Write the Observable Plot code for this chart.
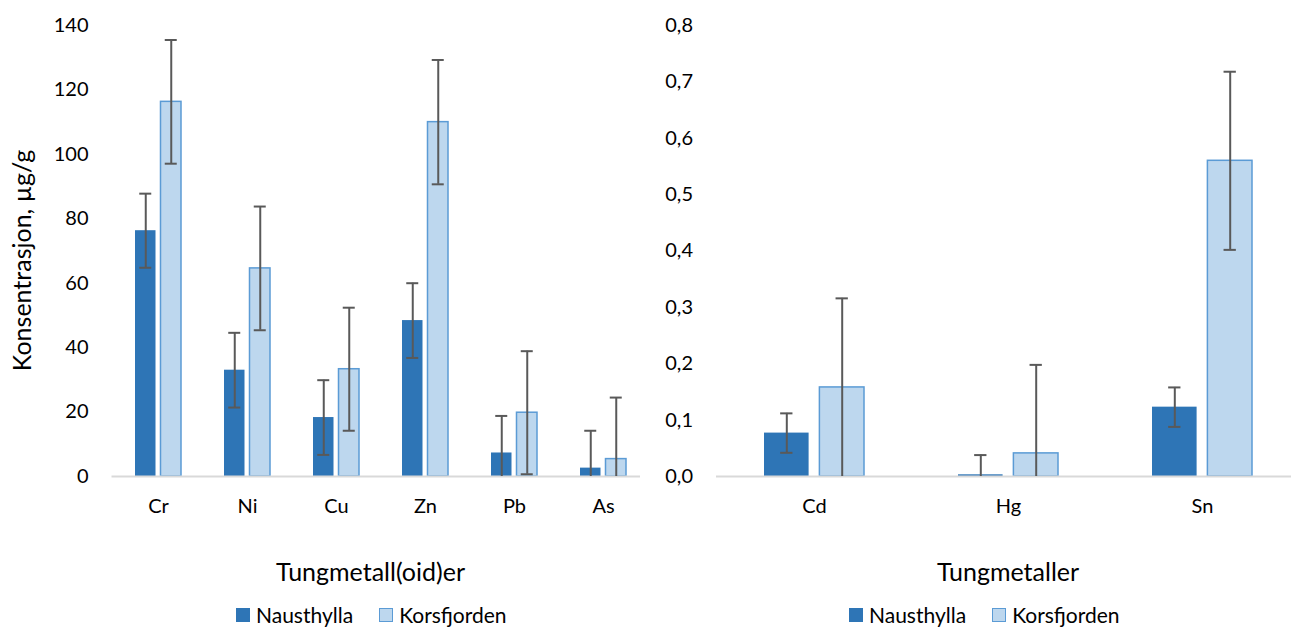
<!DOCTYPE html>
<html><head><meta charset="utf-8">
<script src="https://cdn.jsdelivr.net/npm/d3@7"></script>
<script src="https://cdn.jsdelivr.net/npm/@observablehq/plot@0.6"></script>
<style>
html,body{margin:0;padding:0;background:#fff;overflow:hidden;}
#wrap{position:relative;width:1291px;height:628px;overflow:hidden;font-family:Lato,sans-serif;background:#fff;}
.panel{position:absolute;top:0;}
.legend{position:absolute;top:602px;height:25px;display:flex;align-items:center;font-size:21px;color:#000;white-space:nowrap;line-height:25px;}
.legend .sw{display:inline-block;width:14px;height:14px;box-sizing:border-box;margin-right:6px;}
.legend .item{display:flex;align-items:center;margin-right:26px;}
</style></head><body><div id="wrap"></div>
<script>
// ---- data ----
const seriesNames = ["Nausthylla", "Korsfjorden"];
const leftCategories = ["Cr", "Ni", "Cu", "Zn", "Pb", "As"];
const leftNausthylla = [76.3, 33.0, 18.3, 48.4, 7.3, 2.6];
const leftNausthyllaErr = [11.5, 11.6, 11.6, 11.6, 11.5, 11.6];
const leftKorsfjorden = [116.3, 64.6, 33.3, 110.0, 19.8, 5.4];
const leftKorsfjordenErr = [19.2, 19.2, 19.1, 19.3, 19.1, 19.1];
const leftTicks = [0, 20, 40, 60, 80, 100, 120, 140];
const leftTickLabels = ["0", "20", "40", "60", "80", "100", "120", "140"];

const rightCategories = ["Cd", "Hg", "Sn"];
const rightNausthylla = [0.077, 0.003, 0.123];
const rightNausthyllaErr = [0.035, 0.035, 0.035];
const rightKorsfjorden = [0.158, 0.041, 0.560];
const rightKorsfjordenErr = [0.158, 0.157, 0.158];
const rightTicks = [0, 0.1, 0.2, 0.3, 0.4, 0.5, 0.6, 0.7, 0.8];
const rightTickLabels = ["0,0", "0,1", "0,2", "0,3", "0,4", "0,5", "0,6", "0,7", "0,8"];

const yTitle = "Konsentrasjon, µg/g";
const leftXTitle = "Tungmetall(oid)er";
const rightXTitle = "Tungmetaller";

// ---- style ----
const colN = "#2E75B6", colKFill = "#BDD7EE", colKStroke = "#5B9BD5";
const colErr = "#595959", colAxis = "#D9D9D9";

function rows(cats, vals, errs, series) {
  return cats.map((c, i) => ({
    cat: c, series, value: vals[i],
    hi: vals[i] + errs[i],
    lo: Math.max(0, vals[i] - errs[i]),
    hasLo: vals[i] - errs[i] > 0
  }));
}

function makeChart(o) {
  const pi = 0.487, po = pi / 2;
  const W = o.width - o.marginLeft - o.marginRight;
  const n = o.cats.length;
  const step = W / (n - pi + 2 * po);
  const bw = step * (1 - pi);
  const barW = o.barW, cap = 12;
  const off = bw / 2 - barW / 2;
  const nRows = rows(o.cats, o.N, o.NE, seriesNames[0]);
  const kRows = rows(o.cats, o.K, o.KE, seriesNames[1]);
  const capIn = (barW - cap) / 2;
  const errStyle = {stroke: colErr, strokeWidth: 2};
  const marks = [
    Plot.barY(nRows, {x: "cat", y: "value", fill: colN, insetRight: bw - barW}),
    Plot.barY(kRows, {x: "cat", y: "value", fill: colKFill, stroke: colKStroke, strokeWidth: 1.5, insetLeft: bw - barW}),
    Plot.ruleY([0], {stroke: colAxis, strokeWidth: 2, insetRight: o.axisInsetRight || 0}),
    Plot.ruleX(nRows, {x: "cat", y1: "lo", y2: "hi", dx: -off, ...errStyle}),
    Plot.ruleX(kRows, {x: "cat", y1: "lo", y2: "hi", dx: off, ...errStyle}),
    Plot.tickY(nRows, {x: "cat", y: "hi", insetLeft: capIn, insetRight: bw - barW + capIn, ...errStyle}),
    Plot.tickY(nRows.filter(d => d.hasLo), {x: "cat", y: "lo", insetLeft: capIn, insetRight: bw - barW + capIn, ...errStyle}),
    Plot.tickY(kRows, {x: "cat", y: "hi", insetRight: capIn, insetLeft: bw - barW + capIn, ...errStyle}),
    Plot.tickY(kRows.filter(d => d.hasLo), {x: "cat", y: "lo", insetRight: capIn, insetLeft: bw - barW + capIn, ...errStyle}),
    Plot.text([o.xTitle], {frameAnchor: "bottom", dy: 96, dx: o.xTitleDx, fontSize: 25, lineAnchor: "middle", textAnchor: "middle", fill: "#000"})
  ];
  if (o.yTitle) {
    marks.push(Plot.text([o.yTitle], {frameAnchor: "left", rotate: -90, dx: -89.5, dy: 9.5, fontSize: 25, textAnchor: "middle", lineAnchor: "middle", fill: "#000"}));
  }
  return Plot.plot({
    width: o.width, height: 600,
    marginLeft: o.marginLeft, marginRight: o.marginRight, marginTop: 25, marginBottom: 124,
    style: {fontSize: "20px", fontFamily: "Lato, sans-serif", color: "#000", background: "#fff", overflow: "visible"},
    x: {type: "band", domain: o.cats, paddingInner: pi, paddingOuter: po, tickSize: 0, tickPadding: 22, label: null},
    y: {domain: [0, o.yMax], ticks: o.ticks, tickFormat: d => o.tickLabels[o.ticks.indexOf(d)], tickSize: 0, tickPadding: 23.5, label: null},
    marks
  });
}

const wrap = document.getElementById("wrap");

const left = makeChart({
  cats: leftCategories, N: leftNausthylla, NE: leftNausthyllaErr, K: leftKorsfjorden, KE: leftKorsfjordenErr,
  ticks: leftTicks, tickLabels: leftTickLabels, yMax: 140,
  width: 650, marginLeft: 111.5, marginRight: 0.5, barW: 20.5,
  xTitle: leftXTitle, xTitleDx: -10.5, yTitle: yTitle, axisInsetRight: 9.5
});
const right = makeChart({
  cats: rightCategories, N: rightNausthylla, NE: rightNausthyllaErr, K: rightKorsfjorden, KE: rightKorsfjordenErr,
  ticks: rightTicks, tickLabels: rightTickLabels, yMax: 0.8,
  width: 649, marginLeft: 66, marginRight: 0, barW: 44.3,
  xTitle: rightXTitle, xTitleDx: 0, yTitle: null
});

function panel(el, x, w) {
  const d = document.createElement("div");
  d.className = "panel"; d.style.left = x + "px"; d.style.width = w + "px";
  d.appendChild(el); wrap.appendChild(d);
}
panel(left, 0, 650);
panel(right, 650, 649);

function legend(x) {
  const d = document.createElement("div");
  d.className = "legend"; d.style.left = x + "px";
  seriesNames.forEach((s, i) => {
    const it = document.createElement("span"); it.className = "item";
    const sw = document.createElement("span"); sw.className = "sw";
    sw.style.background = i === 0 ? colN : colKFill;
    if (i === 1) sw.style.border = "1.5px solid " + colKStroke;
    it.appendChild(sw);
    it.appendChild(document.createTextNode(s));
    d.appendChild(it);
  });
  wrap.appendChild(d);
}
legend(236);
legend(849);
</script>
</body></html>
